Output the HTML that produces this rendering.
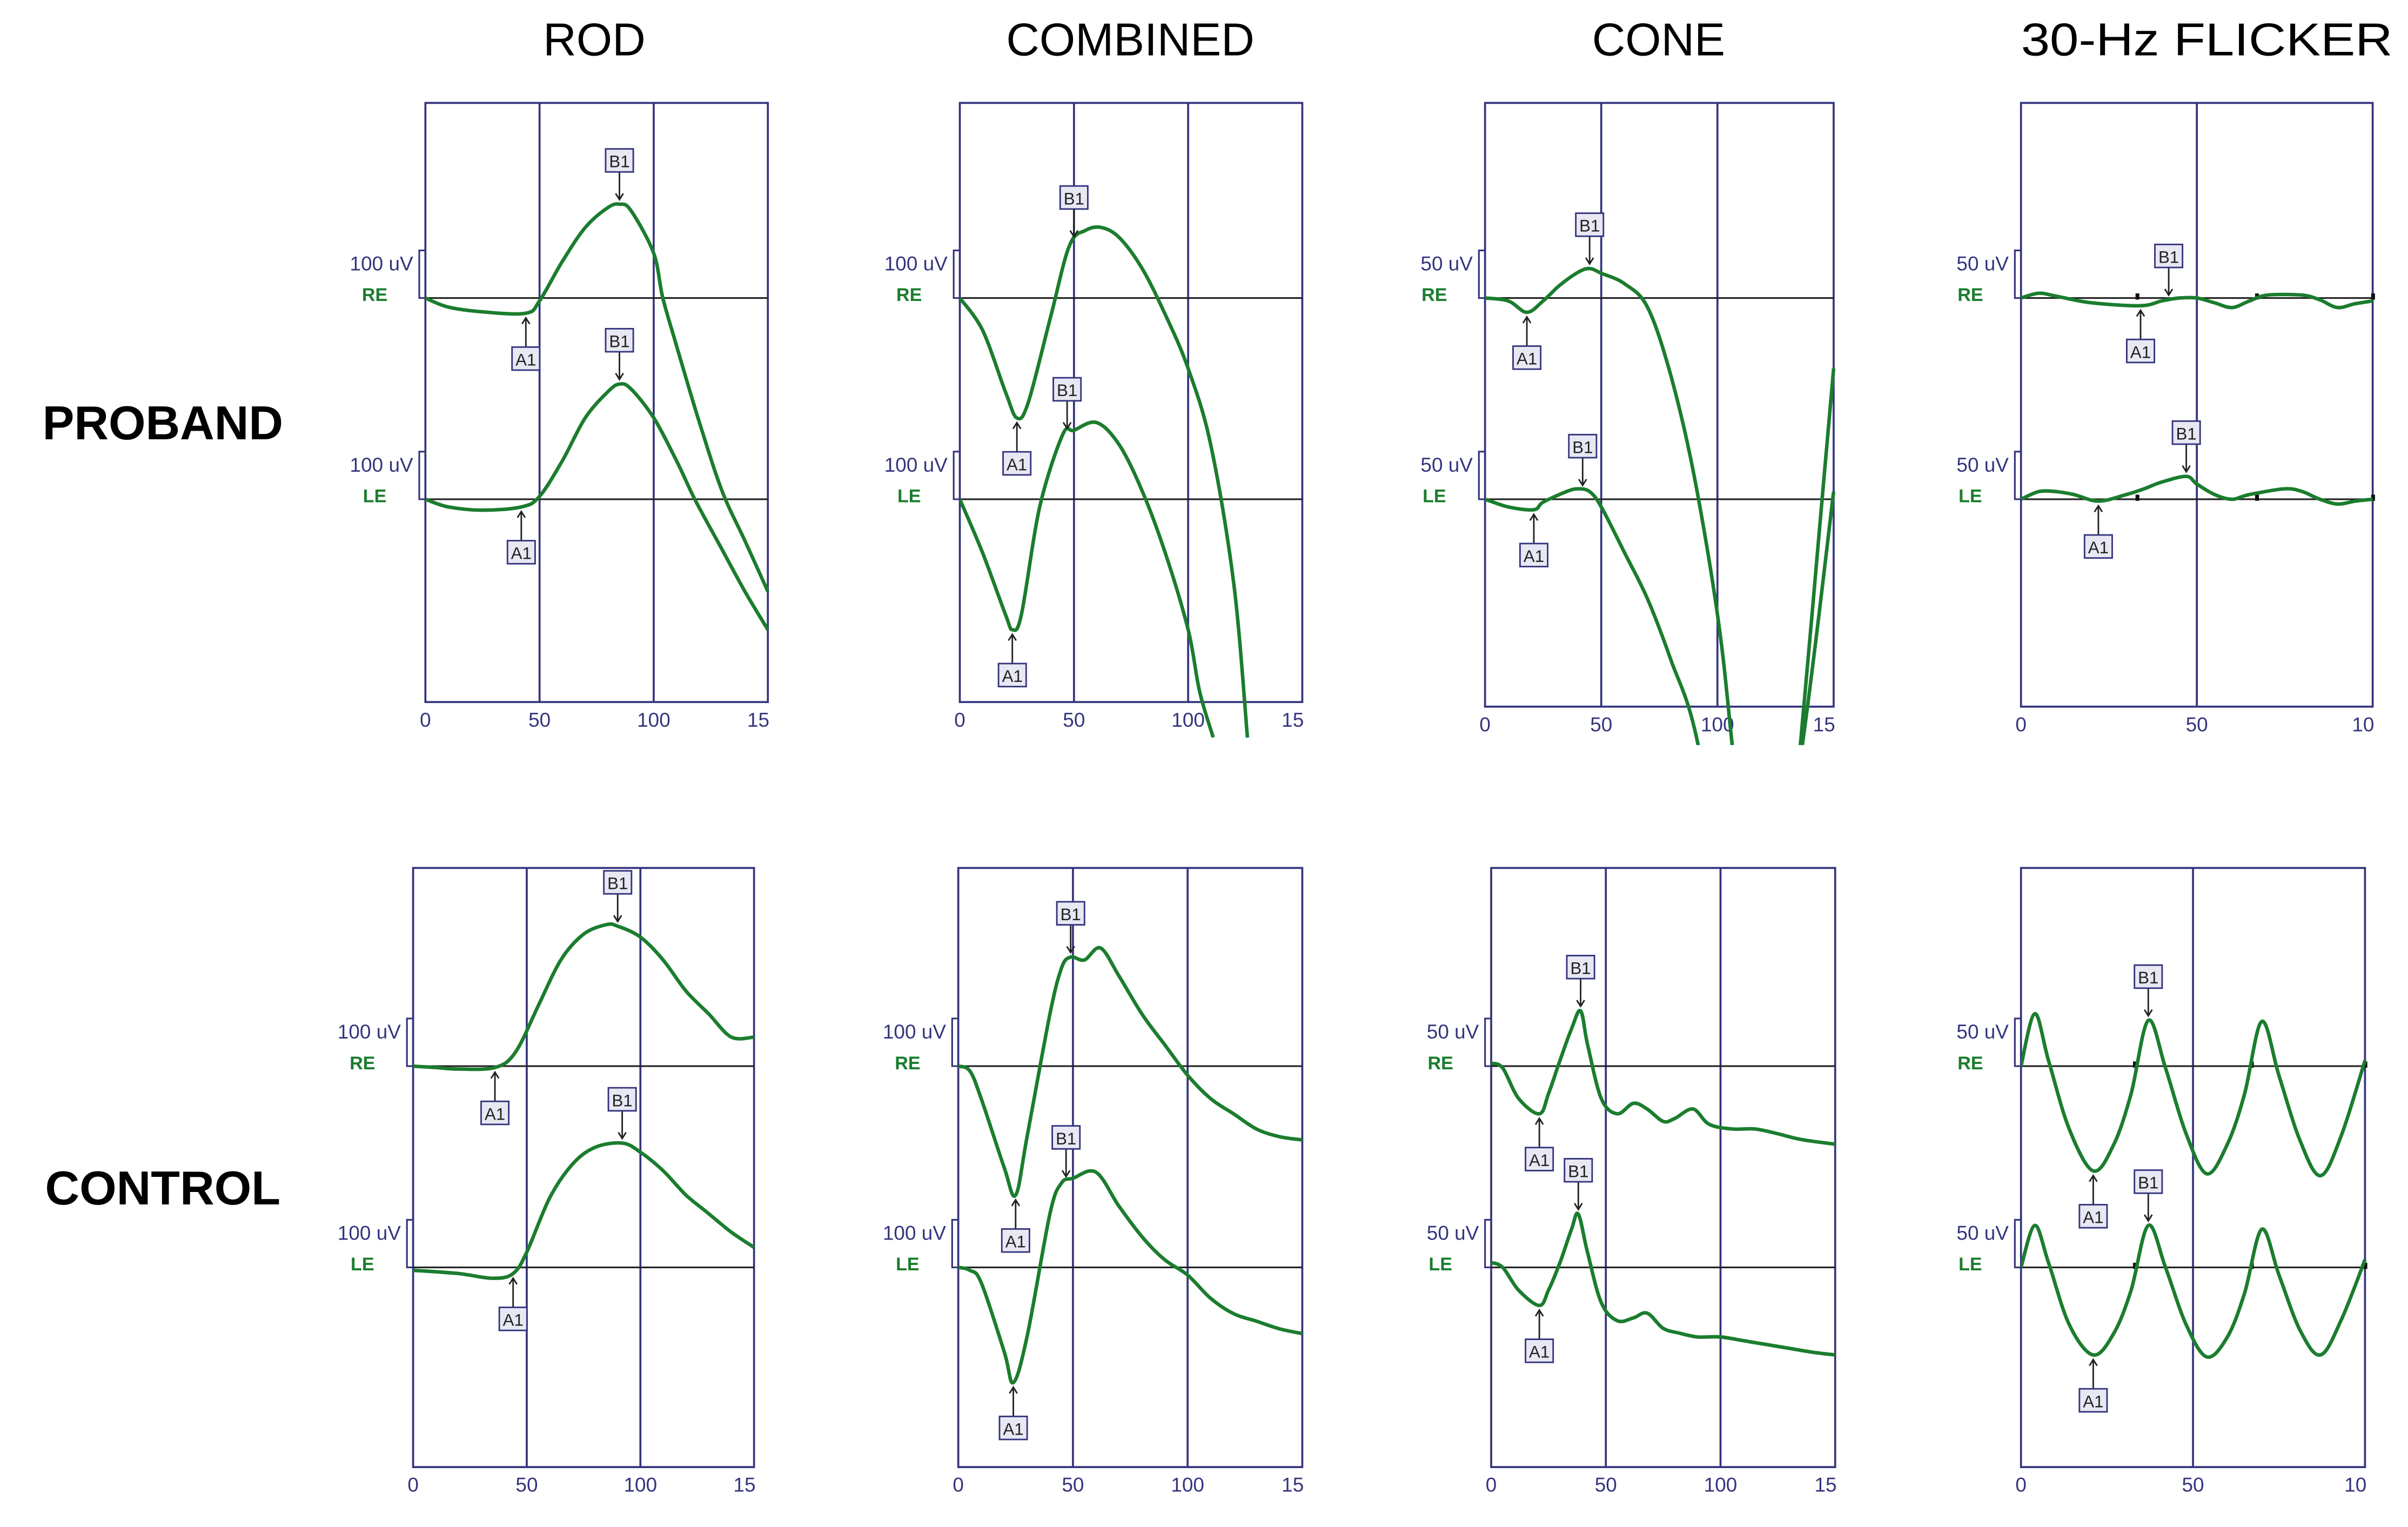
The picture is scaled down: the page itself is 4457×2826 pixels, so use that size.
<!DOCTYPE html>
<html><head><meta charset="utf-8"><style>
html,body{margin:0;padding:0;background:#fff;}
svg{display:block;}
</style></head><body>
<svg id="fig" xmlns="http://www.w3.org/2000/svg" width="4457" height="2826" viewBox="0 0 1568 994" preserveAspectRatio="none" font-family="'Liberation Sans', Arial, sans-serif">
<rect width="1568" height="994" fill="#fff"/>
<text x="387" y="36" font-size="30" text-anchor="middle">ROD</text>
<text x="736" y="36" font-size="30" text-anchor="middle">COMBINED</text>
<text x="1080" y="36" font-size="30" text-anchor="middle">CONE</text>
<text x="1437" y="36" font-size="30" text-anchor="middle" textLength="242" lengthAdjust="spacingAndGlyphs">30-Hz FLICKER</text>
<text x="106" y="286" font-size="31" font-weight="bold" text-anchor="middle">PROBAND</text>
<text x="106" y="784" font-size="31" font-weight="bold" text-anchor="middle">CONTROL</text>
<g id="panels"></g>
</svg>
<script>
// ---- data (time in ms, amplitude in uV) ----
const pRodReT=[0,10,25,44,50,60,70,80,85,90,100,104,110,120,130,140,150];
const pRodReV=[0,-19,-29,-32,-6,77,148,190,197,184,94,0,-100,-261,-406,-510,-616];
const pRodLeT=[0,10,25,42,50,60,70,80,85,90,100,110,118,130,140,150];
const pRodLeV=[0,-16,-23,-16,6,81,171,226,242,232,171,81,0,-106,-194,-274];
const pCombReT=[0,10,20,25,30,40,48,55,62,70,80,90,100,110,120,126];
const pCombReV=[0,-68,-197,-252,-219,-35,110,142,148,126,61,-35,-148,-310,-600,-923];
const pCombLeT=[0,10,20,23,27,35,45,50,60,70,80,90,100,105,111];
const pCombLeV=[0,-113,-242,-274,-242,-16,135,145,161,113,16,-113,-274,-403,-500];
const pConeReT=[0,10,18,25,32,40,45,50,60,70,80,90,100,106,115,122,130,136,143,150];
const pConeReV=[0,-3,-15,-3,13,27,31,26,15,-10,-82,-187,-332,-461,-687,-784,-606,-461,-268,-74];
const pConeLeT=[0,10,21,25,35,40,45,50,60,70,80,91,105,120,137,150];
const pConeLeV=[0,-8,-11,-3,8,11,8,-8,-56,-105,-169,-250,-444,-524,-250,8];
const pFlkReT=[0,5,10,20,34,40,45,50,55,60,65,70,80,85,90,95,100];
const pFlkReV=[0,5,2,-5,-8,-3,0,0,-5,-10,-3,3,3,-2,-10,-6,-3];
const pFlkLeT=[0,5,10,15,22,30,35,40,47,50,55,60,65,75,80,85,90,95,100];
const pFlkLeV=[0,8,8,5,-2,5,11,18,24,16,5,0,5,11,8,0,-5,-2,0];
const cRodReT=[0,10,20,36,45,55,65,75,85,90,100,110,120,130,140,150];
const cRodReV=[0,-3,-6,-3,29,126,223,277,297,294,271,223,158,110,61,61];
const cRodLeT=[0,20,35,44,50,60,70,80,92,100,110,120,130,140,150];
const cRodLeV=[-6,-13,-23,-13,32,145,216,252,261,242,203,152,113,74,42];
const cCombReT=[0,5,10,20,25,30,40,45,49,55,62,70,80,90,100,110,120,130,140,150];
const cCombReV=[0,-10,-68,-213,-271,-148,110,206,229,223,248,190,110,45,-19,-68,-100,-132,-148,-155];
const cCombLeT=[0,5,10,20,24,30,40,45,50,60,70,80,90,100,110,120,130,140,150];
const cCombLeV=[0,-6,-32,-177,-242,-145,113,177,187,200,129,65,16,-16,-65,-97,-113,-129,-139];
const cConeReT=[0,5,12,21,25,30,35,39,42,48,55,62,68,75,80,88,95,105,115,125,135,150];
const cConeReV=[3,-2,-34,-50,-29,6,39,58,23,-34,-50,-39,-45,-58,-55,-45,-61,-66,-66,-71,-77,-82];
const cConeLeT=[0,5,12,21,25,30,35,38,42,48,55,62,68,75,82,90,100,110,120,130,140,150];
const cConeLeV=[5,0,-24,-40,-24,5,40,56,16,-37,-56,-53,-48,-64,-69,-73,-73,-77,-81,-85,-89,-92];
const cFlkT=[0,4,8,14,21,27,32,37,42,48,54,60,65,70,75,81,87,93,100];
const cFlkReV=[0,55,6,-66,-110,-82,-29,48,-2,-71,-113,-82,-29,47,-10,-77,-115,-74,6];
const cFlkLeV=[0,44,5,-60,-92,-69,-24,44,0,-60,-94,-73,-27,40,-8,-65,-92,-56,8];
const xTicksLong=["0","50","100","15"];
const xTicksShort=["0","50","10"];
// markers: [A1 time, B1 time]
const mk={pRodRe:[44,85],pRodLe:[42,85],pCombRe:[25,50],pCombLe:[23,47],pConeRe:[18,45],pConeLe:[21,42],
pFlkRe:[34,42],pFlkLe:[22,47],cRodRe:[36,90],cRodLe:[44,92],cCombRe:[25,49],cCombLe:[24,47],
cConeRe:[21,39],cConeLe:[21,38],cFlkRe:[21,37],cFlkLe:[21,37]};

const NS="http://www.w3.org/2000/svg";
const root=document.getElementById('panels');
function el(tag,attrs,parent){const e=document.createElementNS(NS,tag);for(const k in attrs)e.setAttribute(k,attrs[k]);(parent||root).appendChild(e);return e;}
function interp(T,V,t){for(let i=0;i<T.length-1;i++){if(t>=T[i]&&t<=T[i+1]){return V[i]+(V[i+1]-V[i])*(t-T[i])/(T[i+1]-T[i]);}}return V[V.length-1];}
function smooth(P){let d='M'+P[0][0].toFixed(1)+' '+P[0][1].toFixed(1);
  for(let i=0;i<P.length-1;i++){const p0=P[Math.max(0,i-1)],p1=P[i],p2=P[i+1],p3=P[Math.min(P.length-1,i+2)];
    const c1=[p1[0]+(p2[0]-p0[0])/6,p1[1]+(p2[1]-p0[1])/6],c2=[p2[0]-(p3[0]-p1[0])/6,p2[1]-(p3[1]-p1[1])/6];
    d+=` C${c1[0].toFixed(1)} ${c1[1].toFixed(1)} ${c2[0].toFixed(1)} ${c2[1].toFixed(1)} ${p2[0].toFixed(1)} ${p2[1].toFixed(1)}`;}
  return d;}

const panels=[
{id:'p-rod',L:277,R:500,top:67,bot:457,unit:'100 uV',pxu:0.31,b1:194,b2:325,ticks:xTicksLong,tickT:[0,50,100,150],
 tr:[[pRodReT,pRodReV,'pRodRe'],[pRodLeT,pRodLeV,'pRodLe']]},
{id:'p-comb',L:625,R:848,top:67,bot:457,unit:'100 uV',pxu:0.31,b1:194,b2:325,ticks:xTicksLong,tickT:[0,50,100,150],
 tr:[[pCombReT,pCombReV,'pCombRe'],[pCombLeT,pCombLeV,'pCombLe']]},
{id:'p-cone',L:967,R:1194,top:67,bot:460,unit:'50 uV',pxu:0.62,b1:194,b2:325,ticks:xTicksLong,tickT:[0,50,100,150],
 tr:[[pConeReT,pConeReV,'pConeRe'],[pConeLeT,pConeLeV,'pConeLe']]},
{id:'p-flk',L:1316,R:1545,top:67,bot:460,unit:'50 uV',pxu:0.62,b1:194,b2:325,ticks:xTicksShort,tickT:[0,50,100],flk:true,
 tr:[[pFlkReT,pFlkReV,'pFlkRe'],[pFlkLeT,pFlkLeV,'pFlkLe']]},
{id:'c-rod',L:269,R:491,top:565,bot:955,unit:'100 uV',pxu:0.31,b1:694,b2:825,ticks:xTicksLong,tickT:[0,50,100,150],
 tr:[[cRodReT,cRodReV,'cRodRe'],[cRodLeT,cRodLeV,'cRodLe']]},
{id:'c-comb',L:624,R:848,top:565,bot:955,unit:'100 uV',pxu:0.31,b1:694,b2:825,ticks:xTicksLong,tickT:[0,50,100,150],
 tr:[[cCombReT,cCombReV,'cCombRe'],[cCombLeT,cCombLeV,'cCombLe']]},
{id:'c-cone',L:971,R:1195,top:565,bot:955,unit:'50 uV',pxu:0.62,b1:694,b2:825,ticks:xTicksLong,tickT:[0,50,100,150],
 tr:[[cConeReT,cConeReV,'cConeRe'],[cConeLeT,cConeLeV,'cConeLe']]},
{id:'c-flk',L:1316,R:1540,top:565,bot:955,unit:'50 uV',pxu:0.62,b1:694,b2:825,ticks:xTicksShort,tickT:[0,50,100],flk:true,
 tr:[[cFlkT,cFlkReV,'cFlkRe'],[cFlkT,cFlkLeV,'cFlkLe']]}
];
const NAVY='#34347e', GREEN='#1b7d2e';
panels.forEach(p=>{
  const g=el('g',{});
  
  
  const X=t=>p.L+t*(p.R-p.L)/(p.flk?100:150);
  const fr=el('rect',{x:p.L,y:p.top,width:p.R-p.L,height:p.bot-p.top,fill:'none',stroke:NAVY,'stroke-width':1.3},g);
  
  
  [50,100].forEach(t=>{if(X(t)<p.R-3){const gl=el('line',{x1:X(t),x2:X(t),y1:p.top,y2:p.bot,stroke:NAVY,'stroke-width':1.3},g);
    
    }});
  p.ticks.forEach((lab,i)=>{const last=i===p.ticks.length-1;
    const tx=el('text',{x:last?X(p.tickT[i])+1:X(p.tickT[i]),y:p.bot+16,'font-size':13,fill:NAVY,'text-anchor':last?'end':'middle'},g);
    tx.textContent=lab;
    
    });
  const clipId='clip-'+p.id;
  const cp=el('clipPath',{id:clipId},g);
  el('rect',{x:p.L,y:p.top,width:p.R-p.L+2,height:p.bot-p.top+25},cp);
  [p.b1,p.b2].forEach((b,k)=>{
    const bl=el('line',{x1:p.L,x2:p.R,y1:b,y2:b,stroke:'#222','stroke-width':1.1},g);
    
    
    const br=el('path',{d:`M${p.L} ${b-31} H${p.L-4} V${b} H${p.L}`,fill:'none',stroke:NAVY,'stroke-width':1.1},g);
    
    
    const ut=el('text',{x:p.L-8,y:b-18,'font-size':13,fill:NAVY,'text-anchor':'end'},g);
    ut.textContent=p.unit;
    
    
    const et=el('text',{x:p.L-33,y:b+2,'font-size':12,'font-weight':'bold',fill:GREEN,'text-anchor':'middle'},g);
    et.textContent=k?'LE':'RE';
    
    
    if(p.flk){[33,67,100].forEach(t=>{const tk=el('rect',{x:X(t)-1,y:b-3,width:2.5,height:4,fill:'#111'},g);
      
      });}
  });
  p.tr.forEach((tr,k)=>{
    const [T,V,key]=tr; const b=k?p.b2:p.b1;
    const Y=v=>b-v*p.pxu;
    const pts=T.map((t,i)=>[X(t),Y(V[i])]);
    const path=el('path',{d:smooth(pts),fill:'none',stroke:GREEN,'stroke-width':2.3,'stroke-linejoin':'round','clip-path':`url(#${clipId})`},g);
    
    
    const [ta,tb]=mk[key];
    const ya=Y(interp(T,V,ta)), yb=Y(interp(T,V,tb));
    const xa=X(ta), xb=X(tb);
    const ga=el('g',{},g);
    
    
    el('path',{d:`M${xa} ${ya+22} V${ya+4} M${xa-2.5} ${ya+7} L${xa} ${ya+3} L${xa+2.5} ${ya+7}`,stroke:'#222','stroke-width':1,fill:'none'},ga);
    el('rect',{x:xa-9,y:ya+22,width:18,height:15,fill:'#e8e8f4',stroke:NAVY,'stroke-width':1},ga);
    const at=el('text',{x:xa,y:ya+34,'font-size':11,'text-anchor':'middle',fill:'#222'},ga);at.textContent='A1';
    const gb=el('g',{},g);
    
    
    el('path',{d:`M${xb} ${yb-21} V${yb-3} M${xb-2.5} ${yb-7} L${xb} ${yb-3} L${xb+2.5} ${yb-7}`,stroke:'#222','stroke-width':1,fill:'none'},gb);
    el('rect',{x:xb-9,y:yb-36,width:18,height:15,fill:'#e8e8f4',stroke:NAVY,'stroke-width':1},gb);
    const bt=el('text',{x:xb,y:yb-24,'font-size':11,'text-anchor':'middle',fill:'#222'},gb);bt.textContent='B1';
  });
});
</script>
</body></html>
